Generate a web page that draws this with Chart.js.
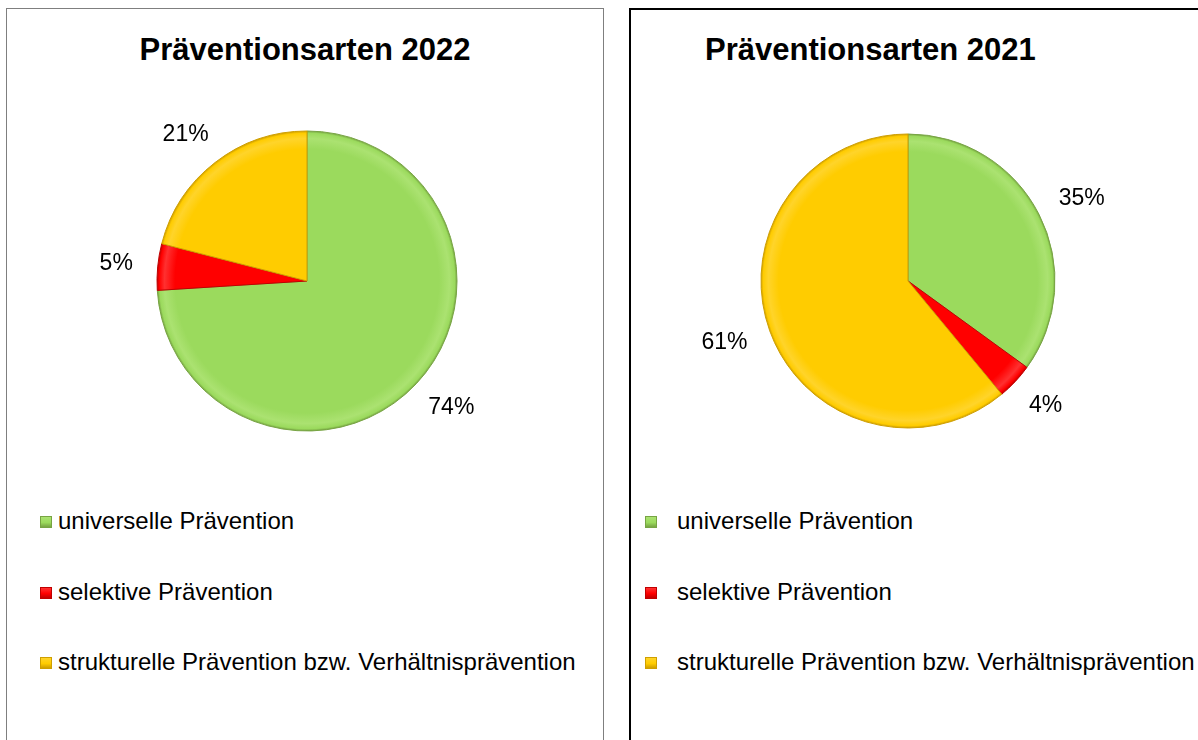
<!DOCTYPE html>
<html>
<head>
<meta charset="utf-8">
<script src="https://cdn.jsdelivr.net/npm/chart.js@4.4.1/dist/chart.umd.min.js"></script>
<style>
  html, body { margin: 0; padding: 0; background: #fff; }
  body { width: 1198px; height: 740px; overflow: hidden; position: relative;
         font-family: 'Liberation Sans', Arial, sans-serif; color: #000; }
  .panel { position: absolute; top: 8px; height: 800px; box-sizing: border-box; background: #fff; }
  #panelLeft { left: 6px; width: 598px; border: 1px solid #7f7f7f; }
  #panelRight { left: 629px; width: 640px; border: 2px solid #000; }
  .title { position: absolute; top: 34px; font-weight: bold; font-size: 31px; line-height: 31px; white-space: nowrap; }
  .pie { position: absolute; top: 61px; width: 500px; height: 440px; }
  .legend-item { position: absolute; font-size: 24px; line-height: 24px; white-space: nowrap; }
  .swatch { position: absolute; width: 12px; height: 12px; box-sizing: border-box; }
</style>
</head>
<body>
<div class="panel" id="panelLeft"></div>
<div class="panel" id="panelRight"></div>

<div class="title" id="title2022" style="left:6px; width:598px; text-align:center;"></div>
<div class="title" id="title2021" style="left:705px;"></div>

<div class="pie" style="left:57px;"><canvas id="chart2022" width="500" height="440"></canvas></div>
<div class="pie" style="left:658px;"><canvas id="chart2021" width="500" height="440"></canvas></div>

<div id="legend2022"></div>
<div id="legend2021"></div>

<script>
const categories = ['universelle Prävention', 'selektive Prävention', 'strukturelle Prävention bzw. Verhältnisprävention'];
const values2022 = [74, 5, 21];
const values2021 = [35, 4, 61];
const title2022 = 'Präventionsarten 2022';
const title2021 = 'Präventionsarten 2021';

const baseColors = ['#9bda5d', '#ff0000', '#ffcc00'];
const lightColors = ['#abe271', '#ff3030', '#ffd42a'];
const darkColors = ['#77a443', '#c00000', '#cf9f00'];

document.getElementById('title2022').textContent = title2022;
document.getElementById('title2021').textContent = title2021;

// soft rim shading for each slice
function sliceFill(radius) {
    return function (ctx) {
        const i = ctx.dataIndex;
        const area = ctx.chart.chartArea;
        if (!area) return baseColors[i];
        const cx = (area.left + area.right) / 2;
        const cy = (area.top + area.bottom) / 2;
        const g = ctx.chart.ctx.createRadialGradient(cx, cy, 0, cx, cy, radius);
        g.addColorStop(0, baseColors[i]);
        g.addColorStop(0.88, baseColors[i]);
        g.addColorStop(0.95, lightColors[i]);
        g.addColorStop(0.985, baseColors[i]);
        g.addColorStop(1, darkColors[i]);
        return g;
    };
}

// percentage labels outside the slices
const outsideLabels = {
    id: 'outsideLabels',
    afterDatasetsDraw(chart) {
        const ctx = chart.ctx;
        const meta = chart.getDatasetMeta(0);
        const data = chart.data.datasets[0].data;
        const total = data.reduce((a, b) => a + b, 0);
        ctx.save();
        ctx.font = '23px "Liberation Sans", Arial, sans-serif';
        ctx.fillStyle = '#000';
        ctx.textAlign = 'center';
        ctx.textBaseline = 'middle';
        meta.data.forEach((arc, i) => {
            const p = arc.getProps(['x', 'y', 'startAngle', 'endAngle', 'outerRadius'], true);
            const mid = (p.startAngle + p.endAngle) / 2;
            const text = Math.round(data[i] / total * 100) + '%';
            const w = ctx.measureText(text).width;
            const h = 20;
            const d = p.outerRadius + 25;
            const x = p.x + Math.cos(mid) * d + Math.cos(mid) * w / 2;
            const y = p.y + Math.sin(mid) * d + Math.sin(mid) * h / 2;
            ctx.fillText(text, x, y);
        });
        ctx.restore();
    }
};

function makePie(canvasId, values, radius) {
    return new Chart(document.getElementById(canvasId), {
        type: 'pie',
        data: {
            labels: categories,
            datasets: [{
                data: values,
                backgroundColor: sliceFill(radius),
                borderColor: darkColors,
                borderWidth: 1
            }]
        },
        options: {
            responsive: false,
            animation: false,
            radius: radius,
            rotation: 0,
            plugins: {
                legend: { display: false },
                tooltip: { enabled: false }
            }
        },
        plugins: [outsideLabels]
    });
}

const chart2022 = makePie('chart2022', values2022, 150);
const chart2021 = makePie('chart2021', values2021, 147);

// legends as html, one row per category
function makeLegend(containerId, boxLeft, textLeft) {
    const box = document.getElementById(containerId);
    categories.forEach((name, i) => {
        const top = 509 + i * 70.5;
        const sw = document.createElement('div');
        sw.className = 'swatch';
        sw.style.left = boxLeft + 'px';
        sw.style.top = (top + 7) + 'px';
        sw.style.background = 'linear-gradient(180deg, ' + lightColors[i] + ' 0%, ' + baseColors[i] + ' 55%, ' + darkColors[i] + ' 100%)';
        sw.style.border = '1px solid ' + darkColors[i];
        box.appendChild(sw);
        const label = document.createElement('div');
        label.className = 'legend-item';
        label.style.left = textLeft + 'px';
        label.style.top = top + 'px';
        label.textContent = name;
        box.appendChild(label);
    });
}

makeLegend('legend2022', 40, 58);
makeLegend('legend2021', 645, 677);
</script>
</body>
</html>
